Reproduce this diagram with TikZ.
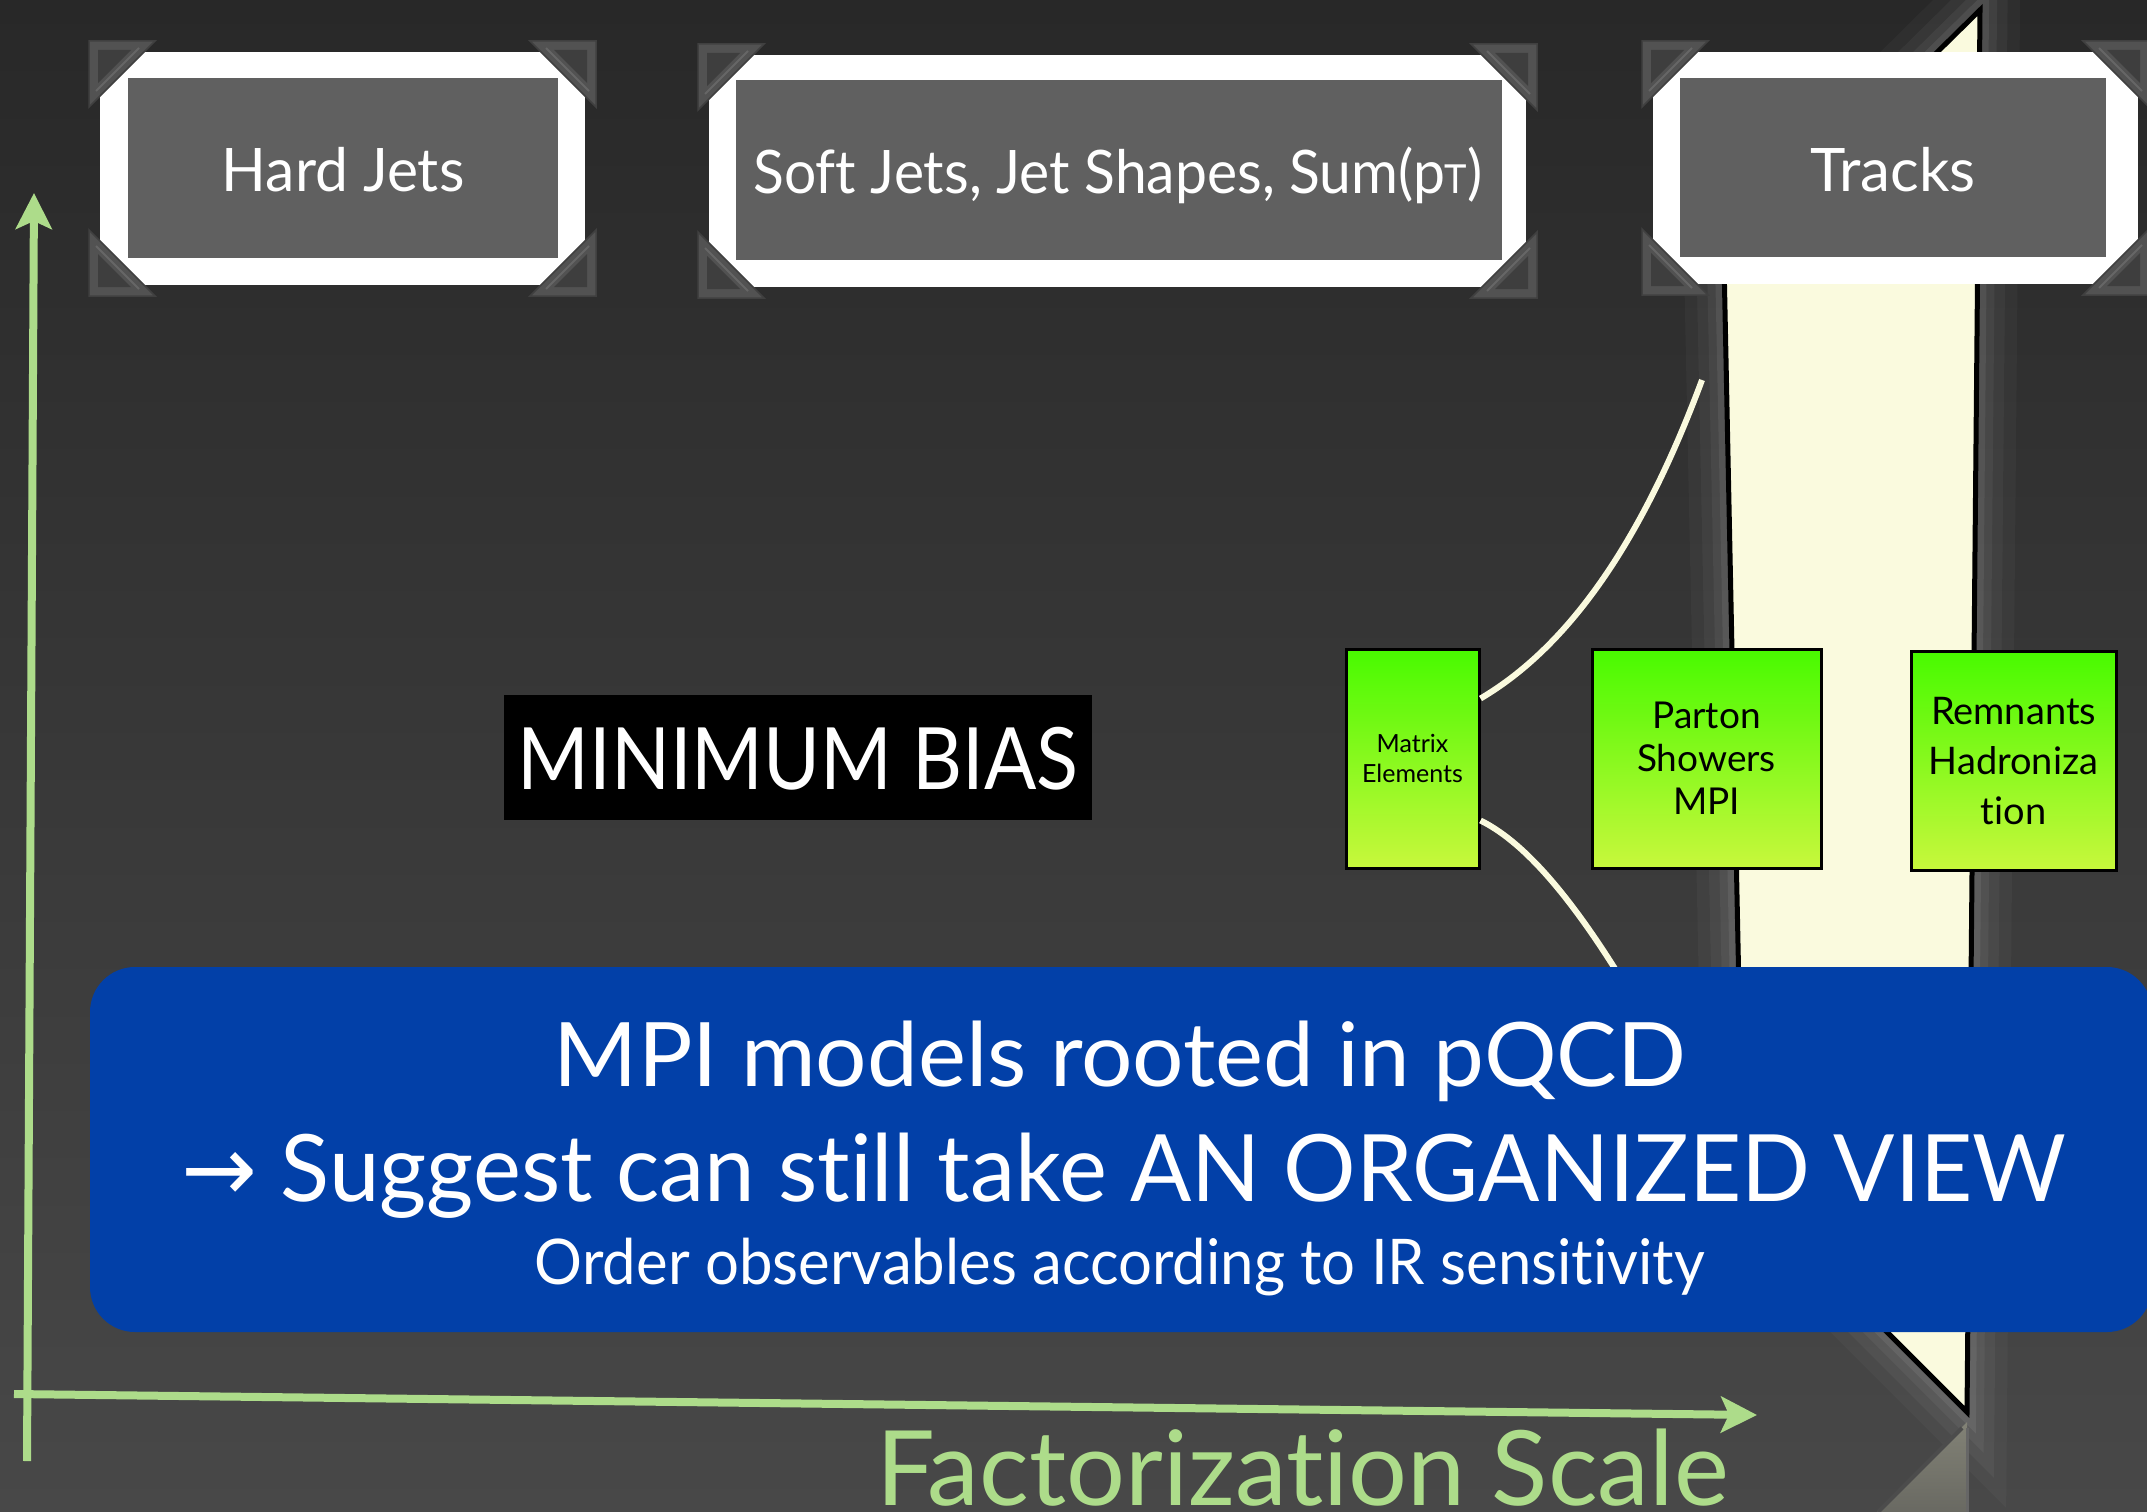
\documentclass[tikz,border=0pt]{standalone}
\usepackage{graphicx}
\usepackage{fontspec}
\setmainfont{Lato}[Ligatures=NoCommon]
\newfontfamily\arrowfont{DejaVu Sans}
\usetikzlibrary{arrows.meta}
\definecolor{bgtop}{RGB}{40,40,40}
\definecolor{bgbot}{RGB}{72,72,72}
\definecolor{axisgreen}{RGB}{173,220,138}
\definecolor{cream}{RGB}{250,250,222}
\definecolor{framegray}{RGB}{96,96,96}
\definecolor{boxblue}{RGB}{2,64,168}
\definecolor{gtop}{RGB}{72,250,0}
\definecolor{gbot}{RGB}{200,248,60}
\definecolor{cornerA}{RGB}{82,82,82}
\definecolor{cornerB}{RGB}{62,62,62}
\newcommand\fss[2]{\fontsize{#1}{#2}\selectfont}
\newcommand\hsq[2]{\scalebox{#1}[1]{#2}}
\newcommand\pcorner[3]{%
  \begin{scope}[shift={#1}, xscale=#2, yscale=#3]
    \fill[cornerA, draw=black!75, line width=1.5pt] (0,0) -- (66,0) -- (0,66) -- cycle;
    \fill[cornerB] (9,9) -- (42,9) -- (9,42) -- cycle;
    \draw[black!60, line width=2pt] (50,7) -- (7,50);
  \end{scope}}
\begin{document}
\begin{tikzpicture}[x=1pt,y=-1pt,
  frameout/.style={fill=white, inner sep=0pt, outer sep=0pt},
  framein/.style={fill=framegray, inner sep=0pt, outer sep=0pt},
  frametext/.style={text=white, font=\fss{60}{60}, anchor=base, inner sep=0pt},
  greenbox/.style={draw=black, line width=3pt, top color=gtop, bottom color=gbot,
    inner sep=0pt, minimum height=219pt, align=center, text=black},
  bluetext/.style={text=white, anchor=base, inner sep=0pt},
  axis/.style={draw=axisgreen, line width=8pt, -{Stealth[length=36pt, width=36pt, inset=8pt]}},
  creamline/.style={draw=cream, line width=6pt}]
\useasboundingbox (0,0) rectangle (2147,1512);
\clip (0,0) rectangle (2147,1512);
% background
\shade[top color=bgtop, bottom color=bgbot] (0,0) rectangle (2147,1512);

% glow round the cream band
\foreach \w/\o in {80/0.03, 55/0.04, 34/0.05, 18/0.07}{
  \draw[white, opacity=\o, line width=\w pt, line join=miter]
    (1980,10) -- (1724,262) -- (1743,1188) -- (1967,1412) -- cycle;
}
% cream band
\filldraw[fill=cream, draw=black, line width=5pt, line join=miter]
  (1980,10) -- (1724,262) -- (1743,1188) -- (1967,1412) -- cycle;
% reflection under the tip
\shade[top color={rgb,255:red,130;green,130;blue,118}, bottom color={rgb,255:red,105;green,105;blue,98}]
  (1967,1422) -- (1967,1512) -- (1877,1512) -- cycle;
\draw[black!70, line width=4pt] (1962,1428) -- (1878,1512);
\draw[black!60, line width=3pt] (1967,1428) -- (1967,1512);

% framed boxes
\node[frameout, minimum width=485pt, minimum height=233pt] (hardout) at (342.5,168.5) {};
\node[framein, minimum width=430pt, minimum height=180pt] (hardin) at (343,168) {};
\node[frametext] (hardtxt) at (343,191) {\hsq{0.98}{Hard Jets}};
\pcorner{(89,41)}{1}{1}\pcorner{(596,41)}{-1}{1}\pcorner{(89,296)}{1}{-1}\pcorner{(596,296)}{-1}{-1}

\node[frameout, minimum width=817pt, minimum height=232pt] (softout) at (1117.5,171) {};
\node[framein, minimum width=766pt, minimum height=180pt] (softin) at (1119,170) {};
\node[frametext] (softtxt) at (1118,193) {\hsq{0.95}{Soft Jets, Jet Shapes, Sum(p{\fss{40}{40}T})}};
\pcorner{(698,44)}{1}{1}\pcorner{(1537,44)}{-1}{1}\pcorner{(698,298)}{1}{-1}\pcorner{(1537,298)}{-1}{-1}

\node[frameout, minimum width=485pt, minimum height=232pt] (trackout) at (1895.5,168) {};
\node[framein, minimum width=426pt, minimum height=179pt] (trackin) at (1893,167.5) {};
\node[frametext] (tracktxt) at (1893,191) {Tracks};
\pcorner{(1642,41)}{1}{1}\pcorner{(2149,41)}{-1}{1}\pcorner{(1642,295)}{1}{-1}\pcorner{(2149,295)}{-1}{-1}

% minimum bias
\node[fill=black, minimum width=588pt, minimum height=125pt, inner sep=0pt] (mb) at (798,757.5) {};
\node[text=white, font=\fss{86}{86}, anchor=base, inner sep=0pt] (mbtxt) at (798,789) {\hsq{0.9}{MINIMUM BIAS}};

% green boxes
\node[greenbox, minimum width=133pt, font=\fss{25}{30}] (me) at (1412.5,758.5) {Matrix\\Elements};
\node[greenbox, minimum width=229pt, font=\fss{37}{43}] (ps) at (1706.5,758.5) {Parton\\Showers\\MPI};
\node[greenbox, minimum width=205pt, font=\fss{38}{50}] (rh) at (2013.5,761) {Remnants\\Hadroniza\\tion};

% cream curves
\coordinate (c1end) at (1702,380);
\coordinate (c2end) at (1640,1010);
\draw[creamline] ([yshift=60pt]me.east) .. controls (1580,640) and (1650,520) .. (c1end);
\draw[creamline] ([yshift=-62pt]me.east) .. controls (1520,840) and (1570,890) .. (c2end);

% blue box
\node[fill=boxblue, rounded corners=45pt, minimum width=2062pt, minimum height=365pt, inner sep=0pt] (blue) at (1121,1149.5) {};
\node[bluetext, font=\fss{89}{89}] (l1) at (1120,1086) {\hsq{1.02}{MPI models rooted in pQCD}};
\node[bluetext, font=\fss{93}{93}] (l2) at (1124,1201) {\hsq{0.975}{{\arrowfont →} Suggest can still take AN ORGANIZED VIEW}};
\node[bluetext, font=\fss{63}{63}] (l3) at (1120,1284) {\hsq{0.95}{Order observables according to IR sensitivity}};

% axes
\coordinate (origin) at (27,1461);
\coordinate (ytip) at (34,193);
\coordinate (xstart) at (14,1394);
\coordinate (xtip) at (1757,1415);
\draw[axis] (origin) -- (ytip);
\draw[axis] (xstart) -- (xtip);
\node[text=axisgreen, font=\fss{104}{104}, anchor=base west, inner sep=0pt] (flabel) at (876,1505) {Factorization Scale};
\end{tikzpicture}
\end{document}
